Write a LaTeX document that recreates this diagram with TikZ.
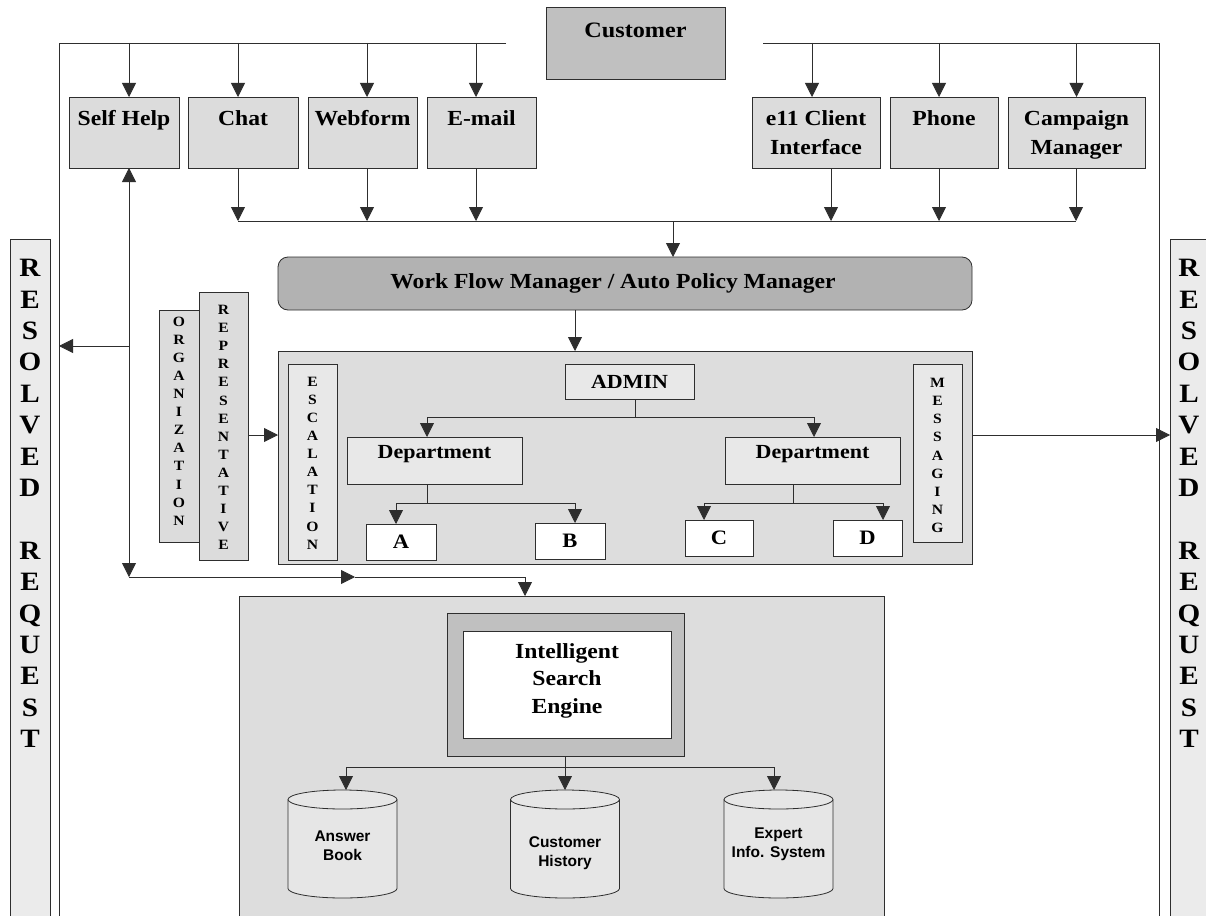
\documentclass[tikz,border=0pt]{standalone}
\usepackage{fontspec}
\setmainfont{Liberation Serif}[FakeStretch=1.1]
\newfontfamily\cylfont{Liberation Sans}
\usetikzlibrary{arrows.meta,calc}
\definecolor{linec}{HTML}{2E2E2E}
\definecolor{custfill}{HTML}{C0C0C0}
\definecolor{chanfill}{HTML}{DCDCDC}
\definecolor{wffill}{HTML}{B2B2B2}
\definecolor{bigfill}{HTML}{DDDDDD}
\definecolor{litefill}{HTML}{E8E8E8}
\definecolor{resfill}{HTML}{EBEBEB}
\definecolor{engfill}{HTML}{C0C0C0}
\definecolor{cylfill}{HTML}{E6E6E6}
\newcommand\fsz[2]{\fontsize{#1}{#2}\selectfont\bfseries}
\newcommand\drawcyl[1]{%
  \path[fill=cylfill, draw=linec, line width=0.8pt]
    ($(#1.north west)+(0,9.5)$) -- ($(#1.south west)+(0,-9.5)$)
    arc[start angle=180, end angle=360, x radius=54.5pt, y radius=9.5pt]
    -- ($(#1.north east)+(0,9.5)$)
    arc[start angle=0, end angle=180, x radius=54.5pt, y radius=9.5pt] -- cycle;
  \draw[draw=linec, line width=0.8pt] ($(#1.north west)+(0,9.5)$)
    arc[start angle=180, end angle=360, x radius=54.5pt, y radius=9.5pt];}
\begin{document}
\begin{tikzpicture}[x=1pt,y=-1pt,
  box/.style={draw=linec, line width=0.8pt, inner sep=0pt, outer sep=0pt, anchor=north west},
  ln/.style={draw=linec, line width=0.8pt},
  arr/.style={ln, -{Triangle[length=14pt,width=14pt]}},
  darr/.style={ln, {Triangle[length=14pt,width=14pt]}-{Triangle[length=14pt,width=14pt]}},
  lab/.style={inner sep=0pt, align=center, font=\fsz{21.5}{28.5}},
  vlab/.style={inner sep=0pt, align=center, font=\fsz{14.2}{18.1}},
  rlab/.style={inner sep=0pt, align=center, font=\fsz{26.5}{31.4}},
  cylarea/.style={inner sep=0pt, outer sep=0pt, anchor=north west, minimum width=109pt, minimum height=108pt},
  clab/.style={inner sep=0pt, align=center, font=\cylfont\fontsize{15.5}{19.5}\selectfont\bfseries}
]
\fill[white] (0,0) rectangle (1206,915);
\useasboundingbox (0,0) rectangle (1206,915);

% ---------- large background boxes ----------
\node[box, fill=resfill, minimum width=40pt, minimum height=680pt] (resL) at (10,239) {};
\node[box, fill=resfill, minimum width=40pt, minimum height=680pt] (resR) at (1170,239) {};
\node[box, fill=bigfill, minimum width=645pt, minimum height=325pt] (search) at (239,596) {};
\node[box, fill=bigfill, minimum width=694pt, minimum height=213pt] (adminbox) at (278,351) {};

% ---------- customer and channels ----------
\node[box, fill=custfill, minimum width=179pt, minimum height=72pt] (customer) at (546,7) {};
\node[box, fill=chanfill, minimum width=110pt, minimum height=71pt] (selfhelp) at (69,97) {};
\node[box, fill=chanfill, minimum width=110pt, minimum height=71pt] (chat) at (188,97) {};
\node[box, fill=chanfill, minimum width=109pt, minimum height=71pt] (webform) at (308,97) {};
\node[box, fill=chanfill, minimum width=109pt, minimum height=71pt] (email) at (427,97) {};
\node[box, fill=chanfill, minimum width=128pt, minimum height=71pt] (e11) at (752,97) {};
\node[box, fill=chanfill, minimum width=108pt, minimum height=71pt] (phone) at (890,97) {};
\node[box, fill=chanfill, minimum width=137pt, minimum height=71pt] (campaign) at (1008,97) {};

\node[lab, anchor=north, font=\fsz{22}{28.5}] (tcustomer) at (635.5,22.5) {Customer};
\node[lab, anchor=north] (tselfhelp) at (124,110.5) {Self Help};
\node[lab, anchor=north] (tchat) at (243,110.5) {Chat};
\node[lab, anchor=north] (twebform) at (362.5,110.5) {Webform};
\node[lab, anchor=north] (temail) at (481.5,110.5) {E-mail};
\node[lab, anchor=north] (te11) at (816,110.5) {e11 Client\\Interface};
\node[lab, anchor=north] (tphone) at (944,110.5) {Phone};
\node[lab, anchor=north] (tcampaign) at (1076.5,110.5) {Campaign\\Manager};

% ---------- work flow ----------
\node[box, fill=wffill, rounded corners=10pt, minimum width=694pt, minimum height=53pt] (wf) at (278,257) {};
\node[lab] (twf) at (613,283) {Work Flow Manager / Auto Policy Manager};

% ---------- side stacks ----------
\node[box, fill=chanfill, minimum width=40pt, minimum height=232pt] (org) at (159,310) {};
\node[box, fill=chanfill, minimum width=49pt, minimum height=268pt] (rep) at (199,292) {};
\node[vlab] (torg) at (179,421) {O\\R\\G\\A\\N\\I\\Z\\A\\T\\I\\O\\N};
\node[vlab] (trep) at (223.5,427.5) {R\\E\\P\\R\\E\\S\\E\\N\\T\\A\\T\\I\\V\\E};

% ---------- admin area ----------
\node[box, fill=litefill, minimum width=49pt, minimum height=196pt] (esc) at (288,364) {};
\node[box, fill=litefill, minimum width=49pt, minimum height=178pt] (msg) at (913,364) {};
\node[vlab] (tesc) at (312.5,463) {E\\S\\C\\A\\L\\A\\T\\I\\O\\N};
\node[vlab] (tmsg) at (937.5,455.5) {M\\E\\S\\S\\A\\G\\I\\N\\G};

\node[box, fill=litefill, minimum width=129pt, minimum height=35pt, font=\fsz{20}{22}] (admin) at (565,364) {ADMIN};
\node[box, fill=litefill, minimum width=175pt, minimum height=47pt] (deptL) at (347,437) {};
\node[box, fill=litefill, minimum width=175pt, minimum height=47pt] (deptR) at (725,437) {};
\node[lab, anchor=north, font=\fsz{20}{22}] (tdeptL) at (434.5,445) {Department};
\node[lab, anchor=north, font=\fsz{20}{22}] (tdeptR) at (812.5,445) {Department};

\node[box, fill=white, minimum width=70pt, minimum height=36pt, font=\fsz{20.5}{22}] (A) at (366,524) {A};
\node[box, fill=white, minimum width=70pt, minimum height=36pt, font=\fsz{20.5}{22}] (B) at (535,523) {B};
\node[box, fill=white, minimum width=68pt, minimum height=36pt, font=\fsz{20.5}{22}] (C) at (685,520) {C};
\node[box, fill=white, minimum width=69pt, minimum height=36pt, font=\fsz{20.5}{22}] (D) at (833,520) {D};

% ---------- resolved labels ----------
\node[rlab] (tresL) at (30,503.5) {R\\E\\S\\O\\L\\V\\E\\D\\[31.4pt]R\\E\\Q\\U\\E\\S\\T};
\node[rlab] (tresR) at (1189,503.5) {R\\E\\S\\O\\L\\V\\E\\D\\[31.4pt]R\\E\\Q\\U\\E\\S\\T};

% ---------- search engine ----------
\node[box, fill=engfill, minimum width=237pt, minimum height=143pt] (engOuter) at (447,613) {};
\node[box, fill=white, minimum width=208pt, minimum height=107pt] (engInner) at (463,631) {};
\node[lab, font=\fsz{21.5}{27.5}] (teng) at (567,680.5) {Intelligent\\Search\\Engine};

\node[cylarea] (cyl1) at (288,790) {};
\node[cylarea] (cyl2) at (510.5,790) {};
\node[cylarea] (cyl3) at (724,790) {};
\drawcyl{cyl1}
\drawcyl{cyl2}
\drawcyl{cyl3}
\node[clab] (tcyl1) at (342.5,845.5) {Answer\\Book};
\node[clab] (tcyl2) at (565,853) {Customer\\History};
\node[clab] (tcyl3) at (778.5,844.5) {Expert\\Info. System};

% ---------- outer loop ----------
\coordinate (tl) at (506,43);
\coordinate (tr) at (763,43);
\coordinate (bl) at (59,917);
\coordinate (br) at (1159,917);
\draw[ln] (tl) -- (tl -| bl) -- (bl);
\draw[ln] (tr) -- (tr -| br) -- (br);

\foreach \n/\d in {selfhelp/5, chat/-5, webform/4.5, email/-5.5, e11/-4, phone/-5, campaign/0}
  \draw[arr] ($(\n.north |- tl)+(\d,0)$) -- ($(\n.north)+(\d,0)$);

% ---------- collector bus ----------
\coordinate (busL) at (238,221);
\coordinate (busR) at (1076,221);
\draw[ln] (busL) -- (busR);
\foreach \n/\d in {chat/-5, webform/4.5, email/-5.5, e11/15, phone/-5, campaign/-0.5}
  \draw[arr] ($(\n.south)+(\d,0)$) -- ($(\n.south |- busL)+(\d,0)$);

\draw[arr] ($(wf.north |- busL)+(48,0)$) -- ($(wf.north)+(48,0)$);
\draw[arr] ($(wf.south)+(-50,0)$) -- ($(adminbox.north)+(-50,0)$);

% ---------- admin tree ----------
\coordinate (aj) at (635,417);
\draw[ln] (admin.south -| aj) -- (aj);
\draw[ln] ($(deptL.north |- aj)+(-7.5,0)$) -- ($(deptR.north |- aj)+(1.5,0)$);
\draw[arr] ($(deptL.north |- aj)+(-7.5,0)$) -- ($(deptL.north)+(-7.5,0)$);
\draw[arr] ($(deptR.north |- aj)+(1.5,0)$) -- ($(deptR.north)+(1.5,0)$);

\coordinate (lj) at (427,503);
\draw[ln] (deptL.south -| lj) -- (lj);
\draw[ln] ($(A.north |- lj)+(-5,0)$) -- ($(B.north |- lj)+(5,0)$);
\draw[arr] ($(A.north |- lj)+(-5,0)$) -- ($(A.north)+(-5,0)$);
\draw[arr] ($(B.north |- lj)+(5,0)$) -- ($(B.north)+(5,0)$);

\coordinate (rj) at (793,503);
\draw[ln] (deptR.south -| rj) -- (rj);
\draw[ln] ($(C.north |- rj)+(-15,0)$) -- ($(D.north |- rj)+(15.5,0)$);
\draw[arr] ($(C.north |- rj)+(-15,0)$) -- ($(C.north)+(-15,0)$);
\draw[arr] ($(D.north |- rj)+(15.5,0)$) -- ($(D.north)+(15.5,0)$);

% ---------- side arrows ----------
\coordinate (ry) at (0,435);
\draw[arr] (rep.east |- ry) -- (adminbox.west |- ry);
\draw[arr] (adminbox.east |- ry) -- (resR.west |- ry);

\coordinate (sj) at (129,577);
\coordinate (sl) at (129,346);
\coordinate (sm) at (355,577);
\coordinate (sr) at (525,577);
\draw[darr] (sj) -- (selfhelp.south -| sj);
\draw[arr] (sl) -- (sl -| bl);
\draw[arr] (sj) -- (sm);
\draw[ln] (sm) -- (sr);
\draw[arr] (sr) -- (search.north -| sr);

% ---------- engine to stores ----------
\coordinate (ej) at (565,767);
\draw[ln] (engOuter.south -| ej) -- (ej);
\draw[ln] ($(cyl1.north |- ej)+(3.5,0)$) -- ($(cyl3.north |- ej)+(-4.5,0)$);
\draw[arr] ($(cyl1.north |- ej)+(3.5,0)$) -- ($(cyl1.north)+(3.5,0)$);
\draw[arr] (cyl2.north |- ej) -- (cyl2.north);
\draw[arr] ($(cyl3.north |- ej)+(-4.5,0)$) -- ($(cyl3.north)+(-4.5,0)$);
\end{tikzpicture}
\end{document}
